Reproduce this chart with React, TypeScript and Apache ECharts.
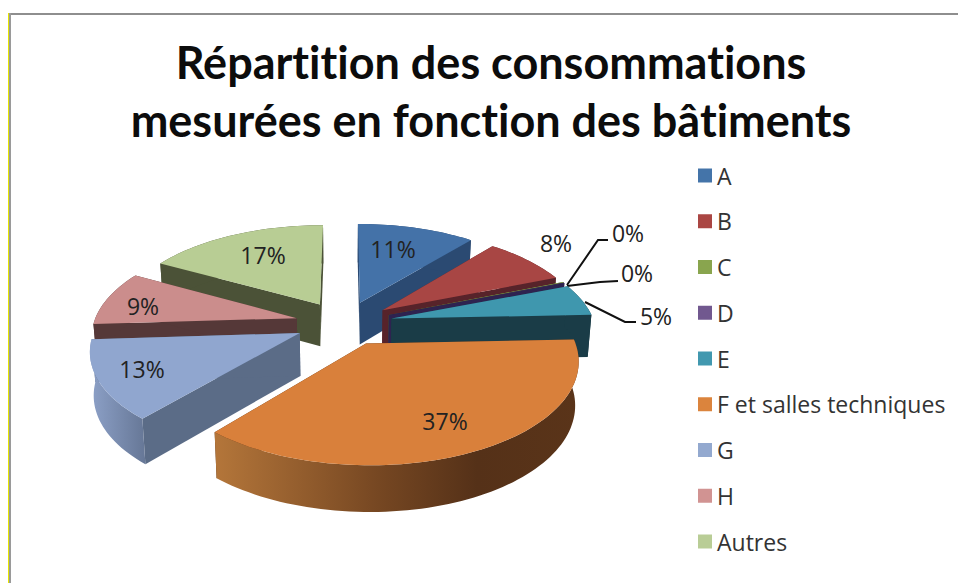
import React, { useEffect, useRef } from "react";
import * as echarts from "echarts";

const categories = ["A", "B", "C", "D", "E", "F et salles techniques", "G", "H", "Autres"];
const values = [11, 8, 0.1, 0.1, 5.2, 36.9, 12.8, 9, 17];
const titleLines = ["Répartition des consommations", "mesurées en fonction des bâtiments"];

const topColors = ["#4472A8", "#A84644", "#8BA64F", "#3A2C55", "#3F97AE", "#D9803B", "#90A6CF", "#CB8D8C", "#B8CD94"];
const legendColors = ["#4474A9", "#AA4643", "#89A54E", "#71588F", "#4198AF", "#DB843D", "#93A9CF", "#D19392", "#B9CD96"];
const wallColors = ["#2B4A72", "#57232A", "#4A5A28", "#2E2350", "#1A3C47", "#53301A", "#5B6C87", "#553838", "#4B5237"];
const paintOrder = [0, 8, 1, 7, 2, 3, 4, 6, 5];
const labelPositions: [number, number][] = [
  [393, 249], [556, 243], [628, 233], [637, 273], [656, 316], [445, 421], [142, 369], [143, 306], [263, 255],
];
const leaders: Record<number, [number, number][]> = {
  2: [[567, 285], [598, 240], [608, 240]],
  3: [[567, 286], [600, 282], [618, 281]],
  4: [[585, 302], [625, 322], [636, 322]],
};

const CX = 344, CY = 323, R = 203, RK = 96.4, PERSP = 0.151, EXPLODE_X = 0.24, EXPLODE_Y = 0.23;
const TITLE_FONT = "Lato, Carlito, 'Noto Sans', sans-serif";
const FONT = "'Open Sans', 'Noto Sans', sans-serif";

const project = (X: number, Y: number, z: number): [number, number] => {
  const s = 1 / (1 + PERSP * Y);
  return [CX + R * X * s * (1 - 0.015 * z), CY - RK * Y * s + z * (42.5 - 3.5 * Y)];
};

const total = values.reduce((a, b) => a + b, 0);
const cumulative: number[] = [];
values.reduce((acc, v, i) => { cumulative[i] = acc; return acc + v; }, 0);

function sliceChildren(i: number) {
  const a0 = (cumulative[i] / total) * Math.PI * 2;
  const a1 = ((cumulative[i] + values[i]) / total) * Math.PI * 2;
  const m = (a0 + a1) / 2;
  const ox = EXPLODE_X * Math.sin(m), oy = EXPLODE_Y * Math.cos(m);
  const steps = Math.max(4, Math.ceil((a1 - a0) / 0.03));
  const arc = (z: number) => {
    const pts: [number, number][] = [];
    for (let k = 0; k <= steps; k++) {
      const a = a0 + ((a1 - a0) * k) / steps;
      pts.push(project(Math.sin(a) + ox, Math.cos(a) + oy, z));
    }
    return pts;
  };
  const apexTop = project(ox, oy, 0), apexBot = project(ox, oy, 1);
  const top = arc(0), bot = arc(1);
  let wallFill: any = wallColors[i];
  if (i === 5) {
    wallFill = new echarts.graphic.LinearGradient(0, 0, 1, 0, [
      { offset: 0, color: "#B4763A" }, { offset: 0.45, color: "#764722" },
      { offset: 0.72, color: "#553118" }, { offset: 1, color: "#5A3419" },
    ]);
  } else if (i === 6) {
    wallFill = new echarts.graphic.LinearGradient(0, 0, 1, 0, [
      { offset: 0, color: "#8DA1C8" }, { offset: 1, color: "#667796" },
    ]);
  }
  const poly = (points: [number, number][], fill: any) => ({
    type: "polygon", shape: { points }, style: { fill, stroke: null }, silent: true,
  });
  const children: any[] = [
    poly([apexTop, top[0], bot[0], apexBot], wallColors[i]),
    poly([apexTop, top[steps], bot[steps], apexBot], wallColors[i]),
    poly([...top, ...bot.slice().reverse()], wallFill),
    poly([apexTop, ...top], topColors[i]),
  ];
  if (leaders[i]) {
    children.push({
      type: "polyline", shape: { points: leaders[i] },
      style: { stroke: "#111", lineWidth: 2, fill: null }, z2: 50, silent: true,
    });
  }
  const [lx, ly] = labelPositions[i];
  children.push({
    type: "text", x: lx, y: ly, z2: 60, silent: true,
    style: {
      text: `${Math.round((values[i] / total) * 100)}%`, fill: "#222", font: `23px ${FONT}`,
      align: "center", verticalAlign: "middle",
    },
  });
  return children;
}

export default function App() {
  const ref = useRef<HTMLDivElement>(null);
  useEffect(() => {
    document.body.style.margin = "0";
    document.body.style.overflow = "hidden";
    const styleTag = document.createElement("style");
    styleTag.textContent = "svg text { font-variant-ligatures: none; }";
    document.head.appendChild(styleTag);
    const chart = echarts.init(ref.current!, null, { renderer: "svg" });
    chart.setOption({
      animation: false,
      backgroundColor: "#fff",
      title: {
        text: titleLines.join("\n"), left: 486, top: 28, textAlign: "center",
        textStyle: { fontFamily: TITLE_FONT, fontWeight: "bold", fontSize: 45, lineHeight: 58, color: "#0c0c0c" },
      },
      legend: {
        orient: "vertical", left: 693, top: 159, selectedMode: false,
        itemWidth: 14, itemHeight: 14, itemGap: 22.75,
        textStyle: { fontFamily: FONT, fontSize: 23, lineHeight: 23, color: "#333" },
        data: categories.map((name, i) => ({ name, icon: "rect", itemStyle: { color: legendColors[i] } })),
      },
      graphic: [
        { type: "rect", shape: { x: 8, y: 13, width: 950, height: 2 }, style: { fill: "#8E8E8E" }, silent: true },
        { type: "rect", shape: { x: 9, y: 13, width: 2, height: 570 }, style: { fill: "#9A9A9A" }, silent: true },
        { type: "rect", shape: { x: 8, y: 13, width: 1, height: 570 }, style: { fill: "#E6E600" }, silent: true },
      ],
      series: categories.map((name, i) => ({
        type: "custom", name, coordinateSystem: "none", silent: true,
        z: 2 + paintOrder.indexOf(i),
        itemStyle: { color: legendColors[i] },
        data: [[values[i]]],
        renderItem: () => ({ type: "group", children: sliceChildren(i) }),
      })),
    });
    return () => { chart.dispose(); styleTag.remove(); };
  }, []);
  return <div ref={ref} style={{ position: "absolute", left: 0, top: 0, width: 958, height: 583 }} />;
}
